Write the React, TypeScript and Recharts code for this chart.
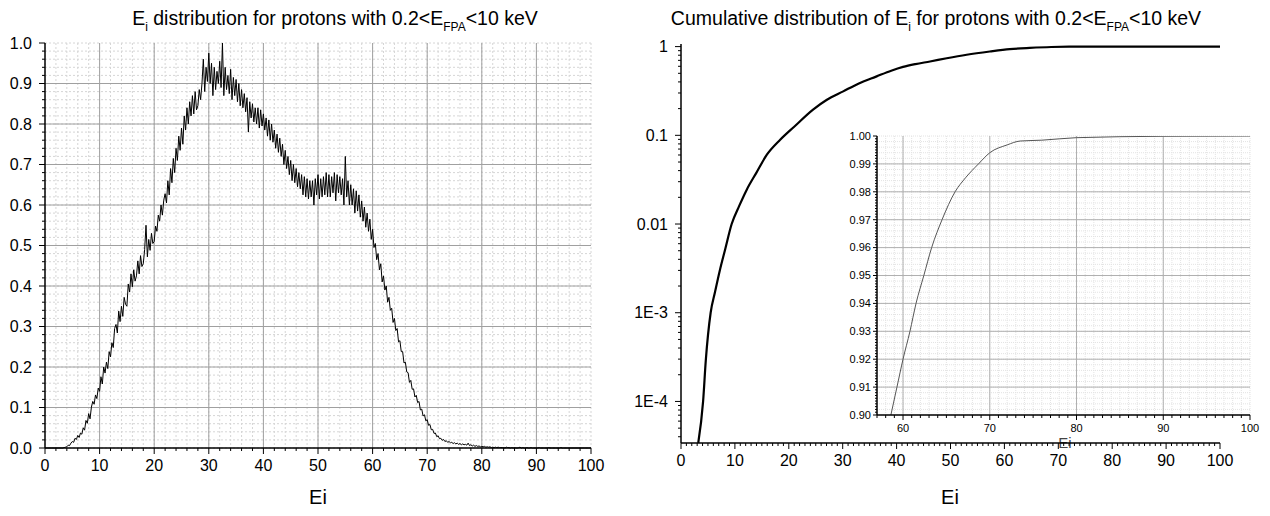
import React from "react";
import { LineChart, Line, XAxis, YAxis, CartesianGrid } from "recharts";

const FONT = "'Liberation Sans', Arial, sans-serif";

// Ei histogram, one value per 0.25 bin from 0 to 100 (one row = one unit of Ei)
const BIN = 0.25;
const distValues = [
  0, 0, 0, 0,
  0, 0, 0, 0,
  0, 0, 0, 0,
  0, 0, 0.001, 0.002,
  0.003, 0.007, 0.006, 0.012,
  0.016, 0.014, 0.024, 0.021,
  0.031, 0.026, 0.037, 0.034,
  0.05, 0.044, 0.068, 0.061,
  0.085, 0.072, 0.101, 0.115,
  0.108, 0.131, 0.122, 0.148,
  0.14, 0.176, 0.158, 0.2,
  0.185, 0.212, 0.196, 0.238,
  0.225, 0.26, 0.248, 0.295,
  0.305, 0.284, 0.338, 0.312,
  0.35, 0.325, 0.372, 0.355,
  0.35, 0.405, 0.385, 0.43,
  0.398, 0.44, 0.412, 0.425,
  0.462, 0.43, 0.475, 0.448,
  0.455, 0.49, 0.55, 0.472,
  0.515, 0.488, 0.53, 0.505,
  0.51, 0.548, 0.535, 0.575,
  0.56, 0.6, 0.575, 0.612,
  0.628, 0.605, 0.66, 0.625,
  0.69, 0.655, 0.715, 0.68,
  0.74, 0.71, 0.77, 0.735,
  0.79, 0.75, 0.82, 0.785,
  0.84, 0.8, 0.855, 0.82,
  0.87, 0.825, 0.88, 0.835,
  0.845, 0.885, 0.86, 0.9,
  0.96, 0.88, 0.94, 0.905,
  0.975, 0.9, 0.95, 0.87,
  0.94, 0.885, 0.93, 0.9,
  0.955, 0.89, 1.0, 0.87,
  0.94, 0.885, 0.92, 0.875,
  0.935, 0.86, 0.915, 0.87,
  0.91, 0.855, 0.9, 0.845,
  0.885, 0.84, 0.875, 0.83,
  0.865, 0.78, 0.855, 0.815,
  0.85, 0.805, 0.84, 0.8,
  0.84, 0.79, 0.835, 0.795,
  0.825, 0.785, 0.815, 0.77,
  0.81, 0.76, 0.8, 0.755,
  0.785, 0.74, 0.775, 0.73,
  0.765, 0.72, 0.75, 0.7,
  0.735, 0.69, 0.72, 0.675,
  0.71, 0.66, 0.7, 0.655,
  0.69, 0.645, 0.68, 0.64,
  0.675, 0.625, 0.67, 0.62,
  0.665, 0.615, 0.66, 0.62,
  0.66, 0.6, 0.665, 0.625,
  0.675, 0.615, 0.665, 0.62,
  0.67, 0.625, 0.68, 0.62,
  0.675, 0.62, 0.67, 0.63,
  0.68, 0.61, 0.675, 0.63,
  0.67, 0.625, 0.665, 0.6,
  0.72, 0.62, 0.66, 0.6,
  0.65, 0.6, 0.64, 0.58,
  0.635, 0.585, 0.625, 0.57,
  0.61, 0.56, 0.595, 0.545,
  0.58, 0.535, 0.565, 0.515,
  0.54, 0.495, 0.505, 0.465,
  0.48, 0.44, 0.455, 0.41,
  0.425, 0.39, 0.4, 0.36,
  0.372, 0.34, 0.345, 0.31,
  0.32, 0.29, 0.295, 0.262,
  0.265, 0.238, 0.238, 0.21,
  0.212, 0.188, 0.186, 0.162,
  0.167, 0.145, 0.146, 0.126,
  0.13, 0.112, 0.115, 0.094,
  0.096, 0.079, 0.082, 0.067,
  0.07, 0.056, 0.058, 0.045,
  0.046, 0.036, 0.037, 0.028,
  0.03, 0.023, 0.024, 0.019,
  0.021, 0.016, 0.018, 0.014,
  0.016, 0.013, 0.014, 0.011,
  0.013, 0.01, 0.012, 0.009,
  0.011, 0.008, 0.01, 0.008,
  0.009, 0.007, 0.012, 0.006,
  0.008, 0.005, 0.007, 0.004,
  0.006, 0.004, 0.005, 0.003,
  0.004, 0.003, 0.004, 0.002,
  0.003, 0.002, 0.003, 0.001,
  0.002, 0.001, 0.002, 0.001,
  0.002, 0.001, 0.001, 0.001,
  0.001, 0, 0.002, 0.001,
  0.001, 0, 0.001, 0,
  0.001, 0, 0, 0.001,
  0.002, 0, 0.001, 0,
  0, 0.001, 0, 0,
  0.001, 0, 0, 0,
  0, 0, 0.001, 0,
  0, 0, 0, 0,
  0, 0.001, 0, 0,
  0, 0, 0, 0,
  0, 0, 0.001, 0,
  0, 0, 0, 0,
  0, 0, 0, 0,
  0, 0, 0, 0,
  0, 0, 0, 0,
  0, 0, 0, 0,
  0,
];

// cumulative distribution (log axis)
const cumX = [3.2, 4.1, 4.6, 5.5, 6.3, 7.2, 8.2, 9.4, 10.8, 12.2, 14, 15.9, 18.4, 21, 24.5, 27, 30.1, 33, 36.3, 39, 41.2, 43.5, 46.2, 49.3, 53, 57.3, 61, 64.7, 68.7, 72, 76, 80, 90, 100];
const cumY = [3.4e-5, 1e-4, 2.9e-4, 1e-3, 1.7e-3, 3e-3, 5.2e-3, 0.01, 0.016, 0.0244, 0.038, 0.06, 0.089, 0.125, 0.195, 0.25, 0.313, 0.385, 0.462, 0.535, 0.59, 0.635, 0.68, 0.74, 0.81, 0.88, 0.935, 0.966, 0.99, 0.997, 0.9985, 0.9994, 0.9999, 1];

// inset, zoom on the top of the cumulative curve
const insetX = [58.6, 59.3, 60, 60.8, 61.5, 62.4, 63.3, 64.5, 66, 67.2, 68.7, 70, 72, 73.5, 76, 80, 90, 100];
const insetY = [0.9, 0.91, 0.92, 0.93, 0.94, 0.95, 0.96, 0.97, 0.98, 0.985, 0.99, 0.994, 0.9968, 0.9982, 0.9985, 0.9994, 0.9999, 1];

const distXTicks = [0, 10, 20, 30, 40, 50, 60, 70, 80, 90, 100];
const distYTicks = [0, 0.1, 0.2, 0.3, 0.4, 0.5, 0.6, 0.7, 0.8, 0.9, 1];
const cumXTicks = [0, 10, 20, 30, 40, 50, 60, 70, 80, 90, 100];
const cumYTicks = [1e-4, 1e-3, 0.01, 0.1, 1];
const cumYLabels = ["1E-4", "1E-3", "0.01", "0.1", "1"];
const insetXTicks = [60, 70, 80, 90, 100];
const insetYTicks = [0.9, 0.91, 0.92, 0.93, 0.94, 0.95, 0.96, 0.97, 0.98, 0.99, 1];

const steps = (a: number, b: number, s: number) => {
  const out: number[] = [];
  for (let v = a; v <= b + s / 1000; v += s) out.push(+v.toFixed(6));
  return out;
};

const logMinor = (lo: number, hi: number) => {
  const out: number[] = [];
  [1e-5, 1e-4, 1e-3, 1e-2, 1e-1, 1].forEach((d) => {
    for (let m = 1; m <= 9; m++) {
      const v = +(d * m).toPrecision(6);
      if (v >= lo && v <= hi) out.push(v);
    }
  });
  return out;
};

const CUM_DOMAIN: [number, number] = [3.4e-5, 1.07];

type TickOpts = {
  side: "left" | "bottom";
  major: number[];
  labels?: string[];
  fmt?: (v: number) => string;
  font: number;
  majorLen: number;
  minorLen: number;
  gap: number;
};

function AxisTick(props: any) {
  const { x, y, payload, opts } = props;
  const o: TickOpts = opts;
  const v = Number(payload.value);
  const idx = o.major.findIndex((m) => Math.abs(m - v) <= Math.abs(m) * 1e-6 + 1e-9);
  const len = idx >= 0 ? o.majorLen : o.minorLen;
  const label = idx >= 0 ? (o.labels ? o.labels[idx] : o.fmt ? o.fmt(v) : String(v)) : null;
  if (o.side === "left") {
    return (
      <g>
        <line x1={x} y1={y} x2={x - len} y2={y} stroke="#000" strokeWidth={1} />
        {label && (
          <text x={x - o.majorLen - o.gap} y={y} dy="0.35em" textAnchor="end" fontSize={o.font} fontFamily={FONT} fill="#000">
            {label}
          </text>
        )}
      </g>
    );
  }
  return (
    <g>
      <line x1={x} y1={y} x2={x} y2={y + len} stroke="#000" strokeWidth={1} />
      {label && (
        <text x={x} y={y + o.majorLen + o.gap} dy="0.71em" textAnchor="middle" fontSize={o.font} fontFamily={FONT} fill="#000">
          {label}
        </text>
      )}
    </g>
  );
}

const sub = { fontSize: 12, verticalAlign: "-6px", lineHeight: 0 } as const;
const axisLine = { stroke: "#000", strokeWidth: 1.5 };

function DistChart() {
  const data = distValues.map((v, i) => ({ x: i * BIN, y: v }));
  return (
    <LineChart width={620} height={516} data={data} margin={{ top: 43, right: 29, bottom: 0, left: 0 }}>
      <CartesianGrid verticalValues={steps(0, 100, 2)} horizontalValues={steps(0, 1, 0.02)} stroke="#d6d6d6" strokeDasharray="2 2" />
      <CartesianGrid verticalValues={distXTicks.slice(1, -1)} horizontalValues={distYTicks.slice(1, -1)} stroke="#a0a0a0" />
      <XAxis
        type="number"
        dataKey="x"
        domain={[0, 100]}
        ticks={steps(0, 100, 2)}
        interval={0}
        height={68}
        tickSize={0}
        tickMargin={0}
        tickLine={false}
        axisLine={axisLine}
        tick={<AxisTick opts={{ side: "bottom", major: distXTicks, font: 16, majorLen: 6, minorLen: 3, gap: 6 }} />}
      />
      <YAxis
        type="number"
        domain={[0, 1]}
        ticks={steps(0, 1, 0.02)}
        interval={0}
        width={45}
        tickSize={0}
        tickMargin={0}
        tickLine={false}
        axisLine={axisLine}
        tick={<AxisTick opts={{ side: "left", major: distYTicks, fmt: (v: number) => v.toFixed(1), font: 16, majorLen: 6, minorLen: 3, gap: 7 }} />}
      />
      <Line type="linear" dataKey="y" stroke="#000" strokeWidth={1} dot={false} activeDot={false} isAnimationActive={false} />
    </LineChart>
  );
}

function CumChart() {
  const data = cumX.map((x, i) => ({ x, y: cumY[i] }));
  return (
    <LineChart width={650} height={516} data={data} margin={{ top: 44, right: 50, bottom: 0, left: 0 }}>
      <XAxis
        type="number"
        dataKey="x"
        domain={[0, 100]}
        ticks={steps(0, 100, 1)}
        interval={0}
        height={73}
        tickSize={0}
        tickMargin={0}
        tickLine={false}
        axisLine={axisLine}
        tick={<AxisTick opts={{ side: "bottom", major: cumXTicks, font: 16, majorLen: 6, minorLen: 3, gap: 6 }} />}
      />
      <YAxis
        type="number"
        scale="log"
        domain={CUM_DOMAIN}
        allowDataOverflow
        ticks={logMinor(CUM_DOMAIN[0], CUM_DOMAIN[1])}
        interval={0}
        width={61}
        tickSize={0}
        tickMargin={0}
        tickLine={false}
        axisLine={axisLine}
        tick={<AxisTick opts={{ side: "left", major: cumYTicks, labels: cumYLabels, font: 16, majorLen: 6, minorLen: 3, gap: 7 }} />}
      />
      <Line type="monotone" dataKey="y" stroke="#000" strokeWidth={2.2} dot={false} activeDot={false} isAnimationActive={false} />
    </LineChart>
  );
}

function InsetChart() {
  const data = insetX.map((x, i) => ({ x, y: insetY[i] }));
  return (
    <LineChart width={430} height={320} data={data} margin={{ top: 16, right: 20, bottom: 0, left: 0 }}>
      <CartesianGrid verticalValues={steps(57, 100, 1)} horizontalValues={steps(0.9, 1, 0.002)} stroke="#e3e3e3" strokeDasharray="1 1" />
      <CartesianGrid verticalValues={insetXTicks.slice(0, -1)} horizontalValues={insetYTicks.slice(1, -1)} stroke="#b0b0b0" />
      <XAxis
        type="number"
        dataKey="x"
        domain={[57, 100]}
        allowDataOverflow
        ticks={steps(57, 100, 1)}
        interval={0}
        height={25}
        tickSize={0}
        tickMargin={0}
        tickLine={false}
        axisLine={axisLine}
        tick={<AxisTick opts={{ side: "bottom", major: insetXTicks, font: 11, majorLen: 5, minorLen: 3, gap: 4 }} />}
      />
      <YAxis
        type="number"
        domain={[0.9, 1]}
        allowDataOverflow
        ticks={steps(0.9, 1, 0.001)}
        interval={0}
        width={37}
        tickSize={0}
        tickMargin={0}
        tickLine={false}
        axisLine={axisLine}
        tick={<AxisTick opts={{ side: "left", major: insetYTicks, fmt: (v: number) => v.toFixed(2), font: 11, majorLen: 4, minorLen: 2, gap: 2 }} />}
      />
      <Line type="monotone" dataKey="y" stroke="#555" strokeWidth={1} dot={false} activeDot={false} isAnimationActive={false} />
    </LineChart>
  );
}

export default function App() {
  const title = { position: "absolute", top: 7, textAlign: "center", fontFamily: FONT, fontSize: 19.5, lineHeight: "22px", color: "#000", whiteSpace: "nowrap" } as const;
  const axisTitle = { position: "absolute", top: 486, width: 100, textAlign: "center", fontFamily: FONT, fontSize: 20, lineHeight: "22px", color: "#000" } as const;
  return (
    <div style={{ position: "absolute", left: 0, top: 0, width: 1270, height: 516, background: "#fff", overflow: "hidden" }}>
      <div style={{ ...title, left: 0, width: 670 }}>
        E<span style={sub}>i</span> distribution for protons with 0.2{"<"}E<span style={sub}>FPA</span>{"<"}10 keV
      </div>
      <div style={{ ...title, left: 616, width: 640 }}>
        Cumulative distribution of E<span style={sub}>i</span> for protons with 0.2{"<"}E<span style={sub}>FPA</span>{"<"}10 keV
      </div>
      <div style={{ position: "absolute", left: 0, top: 0 }}>
        <DistChart />
      </div>
      <div style={{ position: "absolute", left: 1040, top: 434, width: 50, textAlign: "center", fontFamily: FONT, fontSize: 15, color: "#444" }}>Ei</div>
      <div style={{ position: "absolute", left: 620, top: 0 }}>
        <CumChart />
      </div>
      <div style={{ position: "absolute", left: 840, top: 120 }}>
        <InsetChart />
      </div>
      <div style={{ ...axisTitle, left: 268 }}>Ei</div>
      <div style={{ ...axisTitle, left: 900 }}>Ei</div>
    </div>
  );
}
